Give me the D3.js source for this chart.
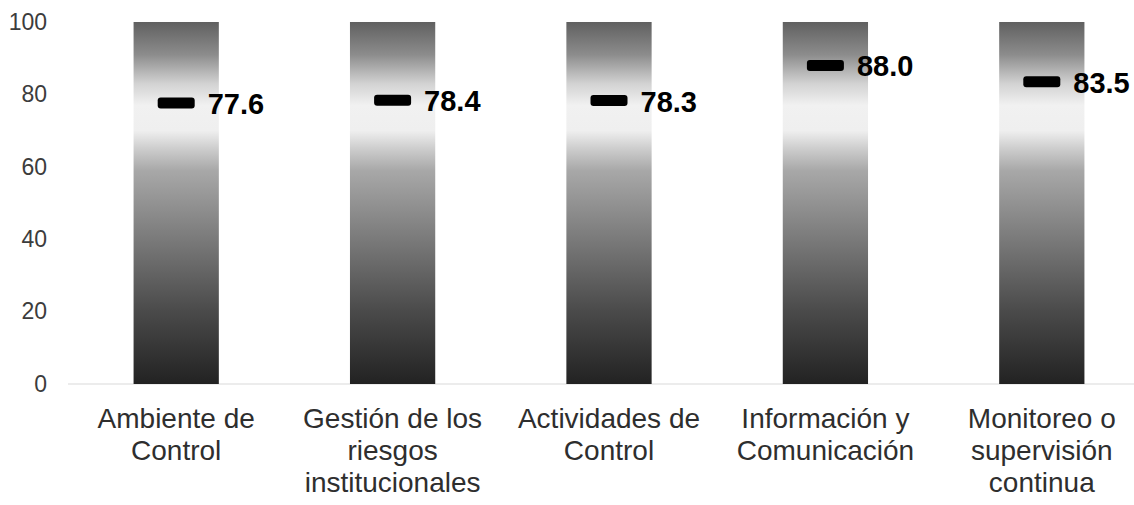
<!DOCTYPE html>
<html>
<head>
<meta charset="utf-8">
<script src="https://cdn.jsdelivr.net/npm/d3@7"></script>
<style>
  html, body { margin: 0; padding: 0; background: #fff; }
  svg { display: block; }
</style>
</head>
<body>
<svg id="chart" width="1134" height="505"></svg>
<script>
// Components of internal control and their scores
const categories = [
  "Ambiente de Control",
  "Gestión de los riesgos institucionales",
  "Actividades de Control",
  "Información y Comunicación",
  "Monitoreo o supervisión continua"
];
const categoryLines = [
  ["Ambiente de", "Control"],
  ["Gestión de los", "riesgos", "institucionales"],
  ["Actividades de", "Control"],
  ["Información y", "Comunicación"],
  ["Monitoreo o", "supervisión", "continua"]
];
const scores = [77.6, 78.4, 78.3, 88.0, 83.5];
const maxScore = 100;
const yTicks = [0, 20, 40, 60, 80, 100];

const svg = d3.select("#chart");

const x = d3.scaleBand()
  .domain(categories)
  .range([68, 1150])
  .paddingInner(0.606)
  .paddingOuter(0.303);

const y = d3.scaleLinear()
  .domain([0, 100])
  .range([384, 22]);

// Vertical grey gradient used for every column
const defs = svg.append("defs");
const grad = defs.append("linearGradient")
  .attr("id", "colGrad")
  .attr("x1", 0).attr("y1", 0).attr("x2", 0).attr("y2", 1);
[
  [0.00, "#606060"],
  [0.09, "#8c8c8c"],
  [0.17, "#d2d2d2"],
  [0.23, "#f1f1f1"],
  [0.30, "#efefef"],
  [0.35, "#cdcdcd"],
  [0.41, "#a8a8a8"],
  [0.60, "#7a7a7a"],
  [0.80, "#4a4a4a"],
  [1.00, "#222222"]
].forEach(([o, c]) => grad.append("stop").attr("offset", o).attr("stop-color", c));

// Baseline
svg.append("line")
  .attr("x1", 68).attr("x2", 1134)
  .attr("y1", y(0)).attr("y2", y(0))
  .attr("stroke", "#d9d9d9")
  .attr("stroke-width", 1);

// Y axis labels (no axis line)
const yAxis = d3.axisLeft(y).tickValues(yTicks).tickSize(0).tickPadding(0);
const yG = svg.append("g")
  .attr("transform", "translate(47,0)")
  .call(yAxis);
yG.select(".domain").remove();
yG.selectAll("text")
  .attr("font-family", "Liberation Sans, Arial, sans-serif")
  .attr("font-size", 23)
  .attr("fill", "#3c3c3c");

// Full-height gradient columns
svg.selectAll("rect.col")
  .data(categories)
  .join("rect")
  .attr("class", "col")
  .attr("x", d => x(d))
  .attr("y", y(maxScore))
  .attr("width", x.bandwidth())
  .attr("height", y(0) - y(maxScore))
  .attr("fill", "url(#colGrad)");

// Score markers
const markW = 37, markH = 11;
svg.selectAll("rect.mark")
  .data(scores)
  .join("rect")
  .attr("class", "mark")
  .attr("x", (d, i) => x(categories[i]) + x.bandwidth() / 2 - markW / 2)
  .attr("y", d => y(d) - markH / 2)
  .attr("width", markW)
  .attr("height", markH)
  .attr("rx", 3)
  .attr("fill", "#000");

// Score labels
svg.selectAll("text.val")
  .data(scores)
  .join("text")
  .attr("class", "val")
  .attr("x", (d, i) => x(categories[i]) + x.bandwidth() / 2 + markW / 2 + 13)
  .attr("y", d => y(d) + 11)
  .attr("font-family", "Liberation Sans, Arial, sans-serif")
  .attr("font-weight", "bold")
  .attr("font-size", 29)
  .attr("fill", "#000")
  .text(d => d.toFixed(1));

// Category labels
const catG = svg.selectAll("text.cat")
  .data(categories)
  .join("text")
  .attr("class", "cat")
  .attr("text-anchor", "middle")
  .attr("font-family", "Liberation Sans, Arial, sans-serif")
  .attr("font-size", 28)
  .attr("fill", "#2e2e2e");
catG.each(function(d, i) {
  const t = d3.select(this);
  categoryLines[i].forEach((line, j) => {
    t.append("tspan")
      .attr("x", x(d) + x.bandwidth() / 2)
      .attr("y", 428 + j * 32)
      .text(line);
  });
});
</script>
</body>
</html>
